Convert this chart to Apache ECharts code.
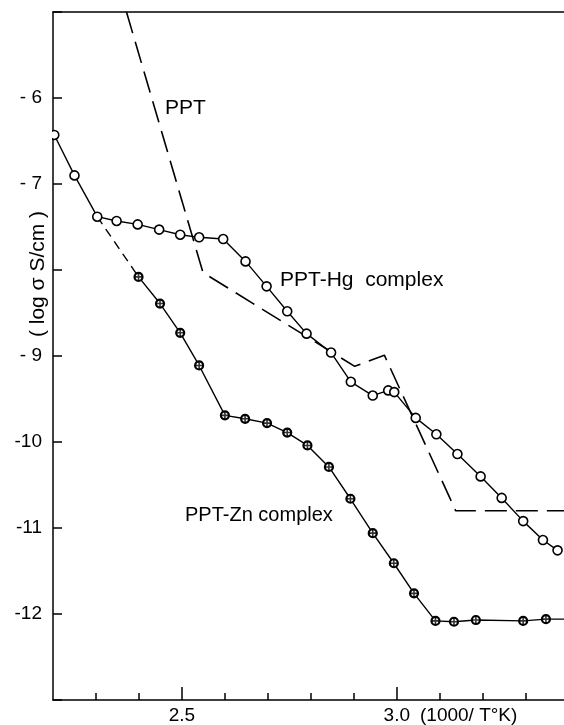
<!DOCTYPE html>
<html>
<head>
<meta charset="utf-8">
<script src="https://cdn.jsdelivr.net/npm/echarts@6/dist/echarts.min.js"></script>
<style>
html,body{margin:0;padding:0;background:#fff;}
#chart{width:564px;height:725px;}
</style>
</head>
<body>
<div id="chart"></div>
<script>
// ---- data ----
const hgX = [2.203, 2.250, 2.303, 2.348, 2.397, 2.447, 2.496, 2.540, 2.596, 2.648, 2.697, 2.745, 2.790, 2.847, 2.893, 2.944, 2.980, 2.994, 3.044, 3.092, 3.141, 3.195, 3.244, 3.294, 3.340, 3.374];
const hgY = [-6.43, -6.90, -7.38, -7.43, -7.47, -7.53, -7.59, -7.62, -7.64, -7.90, -8.19, -8.48, -8.74, -8.96, -9.30, -9.46, -9.40, -9.42, -9.72, -9.91, -10.14, -10.40, -10.65, -10.92, -11.14, -11.26];

const znX = [2.399, 2.449, 2.496, 2.540, 2.600, 2.647, 2.698, 2.745, 2.792, 2.842, 2.892, 2.944, 2.993, 3.040, 3.090, 3.133, 3.184, 3.294, 3.347];
const znY = [-8.08, -8.39, -8.73, -9.11, -9.69, -9.73, -9.78, -9.89, -10.04, -10.29, -10.66, -11.06, -11.41, -11.76, -12.08, -12.09, -12.07, -12.08, -12.06];
const znTailX = [3.347, 3.389];
const znTailY = [-12.06, -12.06];

const pptX = [2.371, 2.549, 2.902, 2.971, 3.137, 3.389];
const pptY = [-5.00, -8.03, -9.12, -8.99, -10.80, -10.80];

const xMajorTicks = [2.5, 3.0];
const xMinorTicks = [2.3, 2.4, 2.6, 2.7, 2.8, 2.9, 3.1, 3.2, 3.3];
const yTickLabels = [-6, -7, -9, -10, -11, -12];

const labelPPT = 'PPT';
const labelHg = 'PPT-Hg  complex';
const labelZn = 'PPT-Zn complex';
const yName = '( log σ S/cm )';
const xName = '(1000/ T°K)';

// ---- chart ----
const zip = (xs, ys) => xs.map((x, i) => [x, ys[i]]);
const FONT = '"Liberation Sans", Arial, sans-serif';
const XMIN = 2.2, XMAX = 3.389;

const chart = echarts.init(document.getElementById('chart'), null, {renderer: 'canvas'});
const lineBlack = {color: '#000', width: 1.5};

chart.setOption({
  animation: false,
  backgroundColor: '#fff',
  grid: {left: 53, right: 0, top: 12, bottom: 25, containLabel: false},
  xAxis: [
    {
      type: 'value', min: XMIN, max: XMAX, position: 'bottom',
      axisLine: {show: true, onZero: false, lineStyle: lineBlack},
      axisTick: {show: true, inside: true, length: 7, customValues: xMinorTicks, lineStyle: lineBlack},
      axisLabel: {show: false},
      splitLine: {show: false}
    },
    {
      type: 'value', min: XMIN, max: XMAX, position: 'bottom',
      axisLine: {show: false, onZero: false},
      axisTick: {show: true, inside: true, length: 13, customValues: xMajorTicks, lineStyle: lineBlack},
      axisLabel: {show: true, customValues: xMajorTicks, formatter: v => v.toFixed(1),
                  fontSize: 19, fontFamily: FONT, color: '#000', margin: 6},
      splitLine: {show: false}
    },
    {
      type: 'value', min: XMIN, max: XMAX, position: 'top',
      axisLine: {show: true, onZero: false, lineStyle: lineBlack},
      axisTick: {show: false}, axisLabel: {show: false}, splitLine: {show: false}
    }
  ],
  yAxis: {
    type: 'value', min: -13, max: -5, interval: 1,
    axisLine: {show: true, onZero: false, lineStyle: lineBlack},
    axisTick: {show: true, inside: true, length: 9, lineStyle: lineBlack},
    axisLabel: {
      customValues: yTickLabels,
      formatter: v => (v > -10 ? '- ' + (-v) : '-' + (-v)),
      fontSize: 19, fontFamily: FONT, color: '#000', margin: 11
    },
    splitLine: {show: false}
  },
  series: [
    {
      name: 'PPT', type: 'line', data: zip(pptX, pptY), symbol: 'none',
      lineStyle: {color: '#000', width: 1.6, type: [22, 9]}, z: 2
    },
    {
      name: 'Zn link', type: 'line', data: [[hgX[2], hgY[2]], [znX[0], znY[0]]], symbol: 'none',
      lineStyle: {color: '#000', width: 1.4, type: [9, 6]}, z: 2
    },
    {
      name: 'PPT-Zn tail', type: 'line', data: zip(znTailX, znTailY), symbol: 'none',
      lineStyle: {color: '#000', width: 1.4}, z: 3
    },
    {
      name: 'PPT-Zn complex', type: 'line', data: zip(znX, znY),
      symbol: 'circle', symbolSize: 8,
      itemStyle: {color: '#fff', borderColor: '#000', borderWidth: 2.2},
      lineStyle: {color: '#000', width: 1.4}, z: 3
    },
    {
      name: 'PPT-Zn cross', type: 'scatter', data: zip(znX, znY),
      symbol: 'path://M-1,-5 L1,-5 L1,5 L-1,5 Z M-5,-1 L5,-1 L5,1 L-5,1 Z',
      symbolSize: 8, itemStyle: {color: '#000'}, z: 4
    },
    {
      name: 'PPT-Hg complex', type: 'line', data: zip(hgX, hgY),
      symbol: 'circle', symbolSize: 9,
      itemStyle: {color: '#fff', borderColor: '#000', borderWidth: 1.6},
      lineStyle: {color: '#000', width: 1.4}, z: 3
    }
  ],
  graphic: [
    {type: 'rect', shape: {x: 0, y: 118, width: 52, height: 34}, style: {fill: '#fff'}, z: 100, silent: true},
    {type: 'text', x: 165, y: 108, style: {text: labelPPT, fontSize: 21, fontFamily: FONT, fill: '#000', verticalAlign: 'middle'}},
    {type: 'text', x: 280, y: 280, style: {text: labelHg, fontSize: 21, fontFamily: FONT, fill: '#000', verticalAlign: 'middle'}},
    {type: 'text', x: 185, y: 515, style: {text: labelZn, fontSize: 20, fontFamily: FONT, fill: '#000', verticalAlign: 'middle'}},
    {type: 'text', x: 38, y: 274, rotation: Math.PI / 2,
     style: {text: yName, fontSize: 21, fontFamily: FONT, fill: '#000', align: 'center', verticalAlign: 'middle'}},
    {type: 'text', x: 420, y: 716, style: {text: xName, fontSize: 19, fontFamily: FONT, fill: '#000', verticalAlign: 'middle'}}
  ]
});
</script>
</body>
</html>
